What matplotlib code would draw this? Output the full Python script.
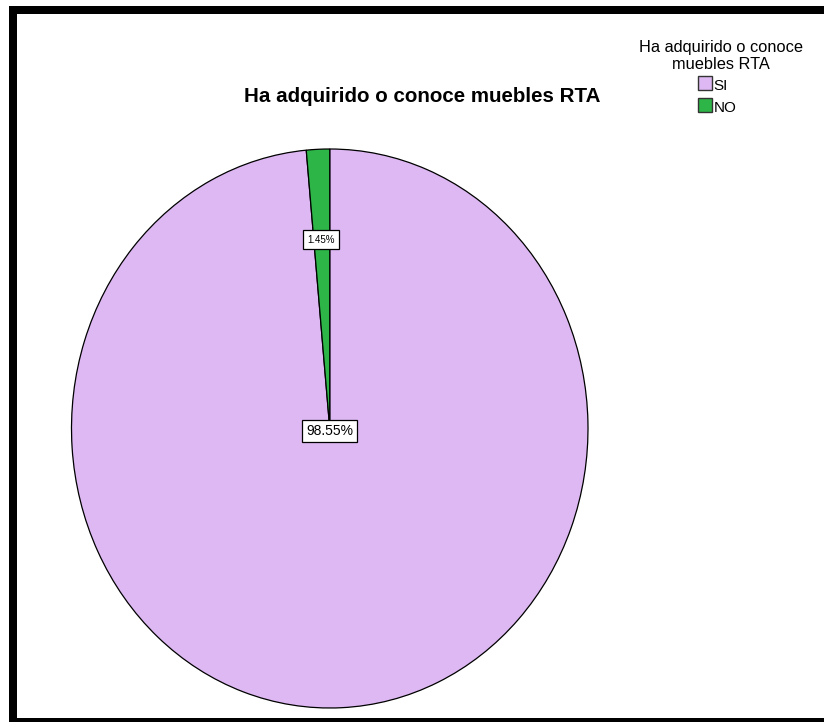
import matplotlib
matplotlib.use("Agg")
import matplotlib.pyplot as plt
from matplotlib.patches import Rectangle

plt.rcParams['font.family'] = ['Liberation Sans', 'DejaVu Sans']

# Survey answers and their shares (%)
categories = ["SI", "NO"]
shares = [98.55, 1.45]
colors = ["#DDB8F2", "#2DB548"]
title = "Ha adquirido o conoce muebles RTA"
legend_title = ["Ha adquirido o conoce", "muebles RTA"]

W, H = 824, 722
fig = plt.figure(figsize=(W / 100, H / 100), dpi=100)
fig.patch.set_facecolor("white")


def fx(px):
    return px / W


def fy(py):
    return 1 - py / H


# Pie area (stretched vertically, as in the exported chart)
left_px, right_px, top_px, bottom_px = 71.5, 588.0, 149.0, 708.0
ax = fig.add_axes([fx(left_px), fy(bottom_px),
                   (right_px - left_px) / W, (bottom_px - top_px) / H])

wedges, _ = ax.pie(shares, colors=colors, startangle=90, counterclock=False,
                   radius=1.0, wedgeprops=dict(edgecolor="black", linewidth=0.9))
ax.set_xlim(-1.0, 1.0)
ax.set_ylim(-1.0, 1.0)
ax.set_aspect("auto")
ax.axis("off")

# Percentage labels in white boxes
ax.text(0.0, -0.01, f"{shares[0]:.2f}%", ha="center", va="center", fontsize=10,
        bbox=dict(boxstyle="square,pad=0.3", facecolor="white",
                  edgecolor="black", linewidth=0.9))
ax.text(-0.033, 0.675, f"{shares[1]:.2f}%", ha="center", va="center", fontsize=7,
        bbox=dict(boxstyle="square,pad=0.45", facecolor="white",
                  edgecolor="black", linewidth=0.9))

# Title
fig.text(fx(422), fy(101.5), title, ha="center", va="baseline",
         fontsize=14.8, fontweight="bold")

# Legend: centred title, then a swatch and label per category
leg_cx = 721
fig.text(fx(leg_cx), fy(52), legend_title[0], ha="center", va="baseline", fontsize=11.8)
fig.text(fx(leg_cx), fy(69), legend_title[1], ha="center", va="baseline", fontsize=11.8)
for i, (cat, col) in enumerate(zip(categories, colors)):
    top = 76 + 22 * i
    fig.patches.append(Rectangle((fx(698), fy(top + 14)), 14 / W, 14 / H,
                                 transform=fig.transFigure, facecolor=col,
                                 edgecolor="#333333", linewidth=1.0))
    fig.text(fx(713.5), fy(top + 14), cat, ha="left", va="baseline", fontsize=11)

# Black frame on top, left and bottom
frame_kw = dict(transform=fig.transFigure, facecolor="black", edgecolor="none")
fig.patches.append(Rectangle((fx(9), fy(14)), 1 - fx(9), 8 / H, **frame_kw))
fig.patches.append(Rectangle((fx(9), 0), 8 / W, 1 - 6 / H, **frame_kw))
fig.patches.append(Rectangle((fx(9), 0), 1 - fx(9), 4.5 / H, **frame_kw))

fig.savefig("out.png", dpi=100, facecolor="white")
